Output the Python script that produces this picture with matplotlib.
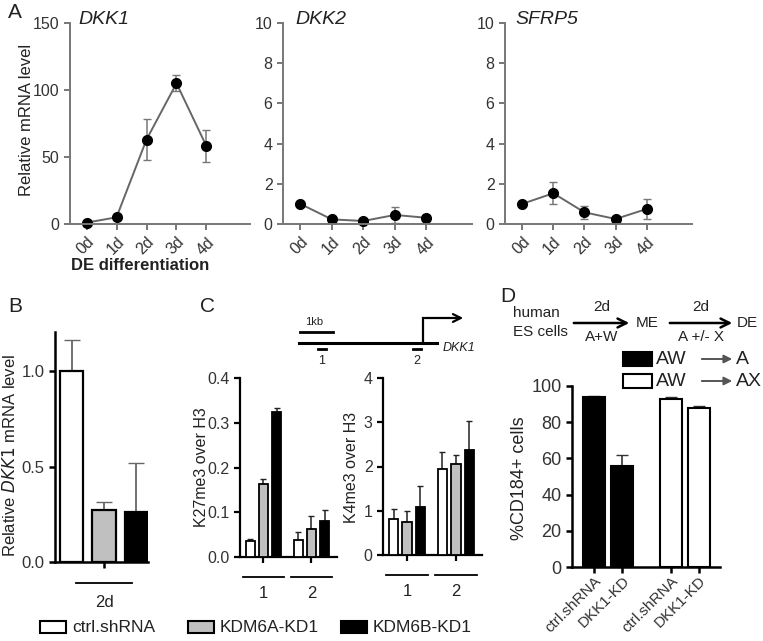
import numpy as np
import matplotlib.pyplot as plt
from matplotlib.patches import Rectangle

plt.rcParams['font.family'] = ['Liberation Sans', 'DejaVu Sans']

# ---- data ----
days = ['0d', '1d', '2d', '3d', '4d']
dkk1 = [1, 5, 63, 105, 58]
dkk1_err = [0.5, 1, 15, 6, 12]
dkk2 = [1.0, 0.23, 0.15, 0.45, 0.31]
dkk2_err = [0.08, 0.05, 0.05, 0.4, 0.05]
sfrp5 = [1.0, 1.53, 0.58, 0.25, 0.75]
sfrp5_err = [0.08, 0.55, 0.32, 0.05, 0.5]

kd_groups = ['ctrl.shRNA', 'KDM6A-KD1', 'KDM6B-KD1']
kd_colors = ['white', '#c0c0c0', 'black']
b_vals = [1.0, 0.274, 0.262]
b_err = [0.163, 0.04, 0.257]

k27_site1 = [0.035, 0.163, 0.325]
k27_site1_err = [0.006, 0.011, 0.008]
k27_site2 = [0.037, 0.063, 0.081]
k27_site2_err = [0.018, 0.029, 0.024]
k4_site1 = [0.81, 0.74, 1.09]
k4_site1_err = [0.22, 0.26, 0.46]
k4_site2 = [1.95, 2.05, 2.38]
k4_site2_err = [0.37, 0.21, 0.65]

d_labels = ['ctrl.shRNA', 'DKK1-KD', 'ctrl.shRNA', 'DKK1-KD']
d_aw_a = [94.1, 55.9]
d_aw_a_err = [0.3, 5.9]
d_aw_ax = [92.6, 87.6]
d_aw_ax_err = [1.1, 1.5]

W, H = 763, 641
fig = plt.figure(figsize=(W / 100, H / 100), dpi=100)


def axes_px(l, t, r, b):
    return fig.add_axes([l / W, 1 - b / H, (r - l) / W, (b - t) / H])


def style(ax, color, lw, fs):
    for s in ['top', 'right']:
        ax.spines[s].set_visible(False)
    for s in ['left', 'bottom']:
        ax.spines[s].set_color(color)
        ax.spines[s].set_linewidth(lw)
    ax.tick_params(color=color, width=lw, length=4, labelsize=fs, labelcolor='#333')


# overlay in pixel coordinates for labels / schematics (drawn on top)
ov = fig.add_axes([0, 0, 1, 1])
ov.set_xlim(0, W)
ov.set_ylim(H, 0)
ov.axis('off')
ov.set_zorder(10)

# ---- panel A ----
a_specs = [(70, 250, dkk1, dkk1_err, 'DKK1', 150, [0, 50, 100, 150], 78),
           (283, 472, dkk2, dkk2_err, 'DKK2', 10, [0, 2, 4, 6, 8, 10], 295),
           (505, 692, sfrp5, sfrp5_err, 'SFRP5', 10, [0, 2, 4, 6, 8, 10], 515)]
for l, r, vals, errs, name, ymax, yt, tx in a_specs:
    ax = axes_px(l, 23, r, 224)
    x = np.arange(len(days))
    ax.errorbar(x, vals, yerr=errs, color='#666', lw=1.4, marker='o', mfc='black',
                mec='black', ms=7, capsize=3, ecolor='#777', elinewidth=1.1, clip_on=False)
    ax.set_xlim(-0.55, 5.45)
    ax.set_ylim(0, ymax)
    ax.set_yticks(yt)
    ax.set_xticks(x, days, rotation=45, ha='right', rotation_mode='anchor')
    style(ax, '#777', 1.4, 11.5)
    ov.text(tx, 20, name, style='italic', fontsize=14, ha='left', va='center', color='#222')

ov.text(8, 12, 'A', fontsize=15, va='center', color='#222')
ov.text(27, 120, 'Relative mRNA level', rotation=90, fontsize=12, ha='center', va='center', color='#222')
ov.text(140, 266, 'DE differentiation', fontsize=12, fontweight='bold', ha='center', va='center', color='#222')

# ---- panel B ----
axb = axes_px(55, 332, 148, 562)
xb = np.arange(len(b_vals))
axb.bar(xb, b_vals, width=0.71, color=kd_colors, edgecolor='black', lw=1.6, zorder=3)
axb.errorbar(xb, b_vals, yerr=[np.zeros(3), b_err], fmt='none', ecolor='#666',
             capsize=6, elinewidth=1.3, zorder=2)
axb.set_xlim(-0.51, 2.355)
axb.set_ylim(0, 1.205)
axb.set_yticks([0, 0.5, 1.0], ['0.0', '0.5', '1.0'])
axb.set_xticks([1], [''])
style(axb, 'black', 1.8, 12)
tr = axb.get_xaxis_transform()
axb.plot([0.14, 1.86], [-0.091, -0.091], color='black', lw=1.3, transform=tr, clip_on=False)
axb.text(1, -0.178, '2d', transform=tr, ha='center', va='center', fontsize=12, color='#222')
ov.text(8, 307, 'B', fontsize=15, va='center', color='#222')
ov.text(10, 455, r'Relative $\it{DKK1}$ mRNA level', rotation=90, fontsize=12,
        ha='center', va='center', color='#222')

# ---- panel C ----
site1_x = np.array([0, 1, 2])
site2_x = site1_x + 3.65
c_specs = [(240, 337, 378, 557, k27_site1, k27_site1_err, k27_site2, k27_site2_err, 0.4,
            [0, 0.1, 0.2, 0.3, 0.4], ['0.0', '0.1', '0.2', '0.3', '0.4'], 'K27me3 over H3', 202),
           (383, 482, 378, 555, k4_site1, k4_site1_err, k4_site2, k4_site2_err, 4,
            [0, 1, 2, 3, 4], ['0', '1', '2', '3', '4'], 'K4me3 over H3', 352)]
for l, r, t, b, s1, e1, s2, e2, ymax, yt, ytl, ylab, lx in c_specs:
    ax = axes_px(l, t, r, b)
    for xs, vs, es in [(site1_x, s1, e1), (site2_x, s2, e2)]:
        ax.bar(xs, vs, width=0.71, color=kd_colors, edgecolor='black', lw=1.3, zorder=3)
        ax.errorbar(xs, vs, yerr=[np.zeros(3), es], fmt='none', ecolor='#222',
                    capsize=2.5, elinewidth=1.1, zorder=2)
    ax.set_xlim(-0.79, 6.6)
    ax.set_ylim(0, ymax)
    ax.set_yticks(yt, ytl)
    ax.set_xticks([1, 4.65], ['', ''])
    style(ax, 'black', 1.6, 11.5)
    tr = ax.get_xaxis_transform()
    hgt = b - t
    for c, lab in [(1, '1'), (4.65, '2')]:
        ax.plot([c - 1.55, c + 1.55], [-20 / hgt, -20 / hgt], color='black', lw=1.3,
                transform=tr, clip_on=False)
        ax.text(c, -37 / hgt, lab, transform=tr, ha='center', va='center', fontsize=12, color='#222')
    ov.text(lx, 467, ylab, rotation=90, fontsize=11.5, ha='center', va='center', color='#222')

ov.text(200, 307, 'C', fontsize=15, va='center', color='#222')
# gene schematic
ov.plot([300, 333], [332, 332], color='black', lw=2)
ov.text(305, 322, '1kb', fontsize=8, ha='left', va='center', color='#222')
ov.plot([299, 437], [343, 343], color='black', lw=2.2)
ov.plot([423, 423], [343, 318], color='black', lw=1.6)
ov.annotate('', xy=(466, 318), xytext=(422, 318),
            arrowprops=dict(arrowstyle='->', color='black', lw=1.6, mutation_scale=14))
ov.text(443, 348, 'DKK1', style='italic', fontsize=9, ha='left', va='center', color='#222')
for mx, lab in [(322, '1'), (417, '2')]:
    ov.plot([mx - 4, mx + 4], [349, 349], color='black', lw=2)
    ov.text(mx, 361, lab, fontsize=9, ha='center', va='center', color='#222')

# ---- panel D ----
axd = axes_px(572, 386, 720, 567)
xd = np.array([0, 1, 2.7, 3.7])
axd.bar(xd[:2], d_aw_a, width=0.77, color='black', edgecolor='black', lw=1.5, zorder=3)
axd.bar(xd[2:], d_aw_ax, width=0.77, color='white', edgecolor='black', lw=1.5, zorder=3)
axd.errorbar(xd, d_aw_a + d_aw_ax, yerr=[np.zeros(4), d_aw_a_err + d_aw_ax_err], fmt='none',
             ecolor='#333', capsize=4, elinewidth=1.2, zorder=2)
axd.set_xlim(-0.77, 4.44)
axd.set_ylim(0, 100)
axd.set_yticks([0, 20, 40, 60, 80, 100])
axd.set_xticks(xd, d_labels, rotation=45, ha='right', rotation_mode='anchor')
style(axd, 'black', 1.8, 13)
axd.tick_params(axis='x', labelsize=11, pad=1)
ov.text(519, 478, '%CD184+ cells', rotation=90, fontsize=13, ha='center', va='center', color='#222')

ov.text(500, 297, 'D', fontsize=15, va='center', color='#222')
ov.text(513, 313, 'human', fontsize=11, ha='left', va='center', color='#222')
ov.text(513, 332, 'ES cells', fontsize=11, ha='left', va='center', color='#222')
for x0, x1, top, bot in [(571, 632, '2d', 'A+W'), (667, 735, '2d', 'A +/- X')]:
    ov.annotate('', xy=(x1, 323), xytext=(x0, 323),
                arrowprops=dict(arrowstyle='->', color='black', lw=1.8, mutation_scale=16))
    ov.text((x0 + x1) / 2, 307, top, fontsize=11, ha='center', va='center', color='#222')
    ov.text((x0 + x1) / 2, 337, bot, fontsize=11, ha='center', va='center', color='#222')
ov.text(636, 323, 'ME', fontsize=11, ha='left', va='center', color='#222')
ov.text(737, 323, 'DE', fontsize=11, ha='left', va='center', color='#222')

for yc, fc, lab in [(359, 'black', 'A'), (381, 'white', 'AX')]:
    ov.add_patch(Rectangle((623, yc - 7), 29, 14, facecolor=fc, edgecolor='black', lw=1.5))
    ov.text(656, yc, 'AW', fontsize=14, ha='left', va='center', color='#222')
    ov.annotate('', xy=(735, yc), xytext=(699, yc),
                arrowprops=dict(arrowstyle='-|>', color='#555', lw=1.4, mutation_scale=12))
    ov.text(736, yc, lab, fontsize=14, ha='left', va='center', color='#222')

# ---- bottom legend ----
for bx, fc, lab in [(40, kd_colors[0], kd_groups[0]), (188, kd_colors[1], kd_groups[1]),
                    (341, kd_colors[2], kd_groups[2])]:
    ov.add_patch(Rectangle((bx, 621), 26, 12, facecolor=fc, edgecolor='black', lw=1.5))
    ov.text(bx + 32, 627, lab, fontsize=12.5, ha='left', va='center', color='#222')

fig.savefig('out.png', dpi=100)
